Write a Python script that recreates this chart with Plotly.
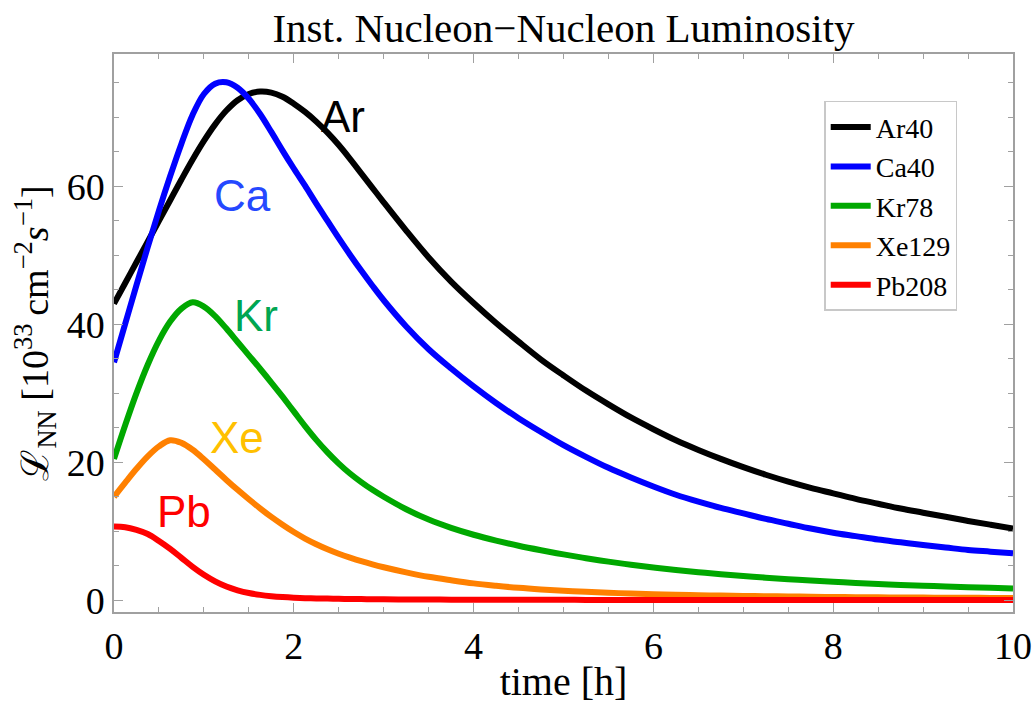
import plotly.graph_objects as go

# ---- data ----
time_h = [0.0, 0.125, 0.25, 0.375, 0.5, 0.625, 0.75, 0.875, 1.0, 1.125, 1.25, 1.375,
          1.5, 1.625, 1.75, 1.875, 2.0, 2.125, 2.25, 2.375, 2.5, 2.625, 2.75, 2.875,
          3.0, 3.25, 3.5, 3.75, 4.0, 4.25, 4.5, 4.75, 5.0, 5.25, 5.5, 5.75,
          6.0, 6.25, 6.5, 6.75, 7.0, 7.25, 7.5, 7.75, 8.0, 8.25, 8.5, 8.75,
          9.0, 9.25, 9.5, 9.75, 10.0]

ar40 = [43.0, 46.0, 49.0, 52.0, 55.0, 58.0, 61.0, 63.9, 66.6, 69.0, 71.0, 72.5,
        73.4, 73.75, 73.6, 73.0, 72.0, 70.8, 69.4, 67.8, 66.0, 64.0, 61.9, 59.8,
        57.7, 53.6, 49.7, 46.2, 43.1, 40.2, 37.5, 34.9, 32.6, 30.4, 28.4, 26.5,
        24.8, 23.2, 21.8, 20.5, 19.3, 18.2, 17.2, 16.3, 15.5, 14.7, 14.0, 13.3,
        12.7, 12.1, 11.5, 10.95, 10.4]

ca40 = [34.5, 40.1, 45.7, 51.2, 56.5, 61.5, 66.2, 70.4, 73.4, 74.9, 75.1, 74.3,
        72.7, 70.5, 67.9, 65.2, 62.6, 60.1, 57.5, 55.0, 52.5, 50.1, 47.8, 45.6,
        43.5, 39.7, 36.4, 33.6, 31.0, 28.6, 26.4, 24.4, 22.5, 20.8, 19.2, 17.8,
        16.5, 15.3, 14.3, 13.4, 12.6, 11.8, 11.1, 10.4, 9.8, 9.3, 8.8, 8.4,
        8.0, 7.65, 7.3, 7.05, 6.8]

kr78 = [20.5, 25.4, 30.03, 34.15, 37.65, 40.4, 42.28, 43.2, 42.58, 41.2, 39.39, 37.45,
        35.51, 33.57, 31.57, 29.51, 27.39, 25.26, 23.26, 21.45, 19.82, 18.38, 17.13, 16.01,
        15.01, 13.2, 11.7, 10.5, 9.5, 8.65, 7.9, 7.25, 6.65, 6.1, 5.6, 5.15,
        4.75, 4.4, 4.07, 3.78, 3.52, 3.28, 3.06, 2.86, 2.68, 2.52, 2.37, 2.23,
        2.11, 2.0, 1.9, 1.81, 1.72]

xe129 = [15.0, 17.06, 19.06, 20.87, 22.31, 23.2, 22.82, 21.82, 20.45, 18.95, 17.45, 16.01,
         14.64, 13.33, 12.08, 10.95, 9.89, 8.95, 8.13, 7.4, 6.75, 6.18, 5.66, 5.2,
         4.79, 4.05, 3.4, 2.9, 2.45, 2.1, 1.8, 1.57, 1.38, 1.22, 1.09, 0.98,
         0.88, 0.8, 0.74, 0.68, 0.63, 0.59, 0.55, 0.51, 0.48, 0.45, 0.43, 0.41,
         0.39, 0.37, 0.36, 0.34, 0.33]

pb208 = [10.7, 10.6, 10.2, 9.6, 8.6, 7.45, 6.15, 4.85, 3.7, 2.75, 2.0, 1.45,
         1.05, 0.78, 0.59, 0.46, 0.37, 0.31, 0.27, 0.24, 0.21, 0.19, 0.17, 0.155,
         0.14, 0.12, 0.1, 0.09, 0.08, 0.075, 0.07, 0.065, 0.06, 0.057, 0.054, 0.051,
         0.048, 0.046, 0.044, 0.042, 0.04, 0.039, 0.038, 0.037, 0.036, 0.035, 0.034, 0.033,
         0.032, 0.031, 0.031, 0.03, 0.03]

series_names = ["Ar40", "Ca40", "Kr78", "Xe129", "Pb208"]
series_values = [ar40, ca40, kr78, xe129, pb208]
line_colors = ["#000000", "#0000ff", "#00a800", "#ff8000", "#ff0000"]

label_texts = ["Ar", "Ca", "Kr", "Xe", "Pb"]
label_t = [2.55, 1.43, 1.58, 1.37, 0.78]
label_L = [70.1, 58.7, 41.3, 23.6, 12.9]
label_colors = ["#000000", "#2548ff", "#00a651", "#ffc000", "#ff0000"]

title_text = "Inst. Nucleon\u2212Nucleon Luminosity"
x_title = "time [h]"
y_title = ("\u2112<sub>NN</sub> [10<sup>33</sup>\u2009cm<sup>\u22122</sup>"
           "<i>s</i><sup>\u22121</sup>]")

SERIF = "Liberation Serif, Times New Roman, serif"
SANS = "Liberation Sans, Arial, sans-serif"
FRAME = "#a0a0a0"

fig = go.Figure()
for name, vals, col in zip(series_names, series_values, line_colors):
    fig.add_trace(go.Scatter(
        x=time_h, y=vals, mode="lines", name=name,
        line=dict(color=col, width=6, shape="spline", smoothing=1.0),
    ))

for txt, tx, ly, col in zip(label_texts, label_t, label_L, label_colors):
    fig.add_annotation(x=tx, y=ly, xref="x", yref="y", text=txt, showarrow=False,
                       font=dict(family=SANS, size=44, color=col),
                       xanchor="center", yanchor="middle")

axis_common = dict(
    showline=True, mirror="allticks", linecolor=FRAME, linewidth=1.5,
    ticks="inside", tickcolor=FRAME, tickwidth=1, showgrid=False, zeroline=False,
    automargin=False,
    tickfont=dict(family=SERIF, size=38, color="black"),
)

fig.update_xaxes(
    range=[0, 10], tick0=0, dtick=2, ticklen=9,
    minor=dict(dtick=0.5, ticks="inside", ticklen=5, tickcolor=FRAME, showgrid=False),
    title=dict(text=x_title, font=dict(family=SERIF, size=40, color="black"), standoff=10),
    **axis_common,
)
fig.update_yaxes(
    range=[-1.7, 79.2], tick0=0, dtick=20, ticklen=9,
    minor=dict(dtick=5, ticks="inside", ticklen=5, tickcolor=FRAME, showgrid=False),
    title=dict(text=y_title, font=dict(family=SERIF, size=38, color="black"), standoff=6),
    **axis_common,
)

fig.update_layout(
    width=1033, height=704,
    margin=dict(l=114, r=20, t=54, b=92, autoexpand=False),
    paper_bgcolor="white", plot_bgcolor="white",
    title=dict(text=title_text, x=0.5, xref="paper", xanchor="center",
               y=1 - 28 / 704, yref="container", yanchor="middle",
               font=dict(family=SERIF, size=41, color="black")),
    showlegend=True,
    legend=dict(x=0.79, y=0.916, xanchor="left", yanchor="top",
                bgcolor="white", bordercolor="#c8c8c8", borderwidth=1.5,
                font=dict(family=SERIF, size=28, color="black"),
                itemwidth=40, tracegroupgap=0),
)

fig.write_html("out.html")
